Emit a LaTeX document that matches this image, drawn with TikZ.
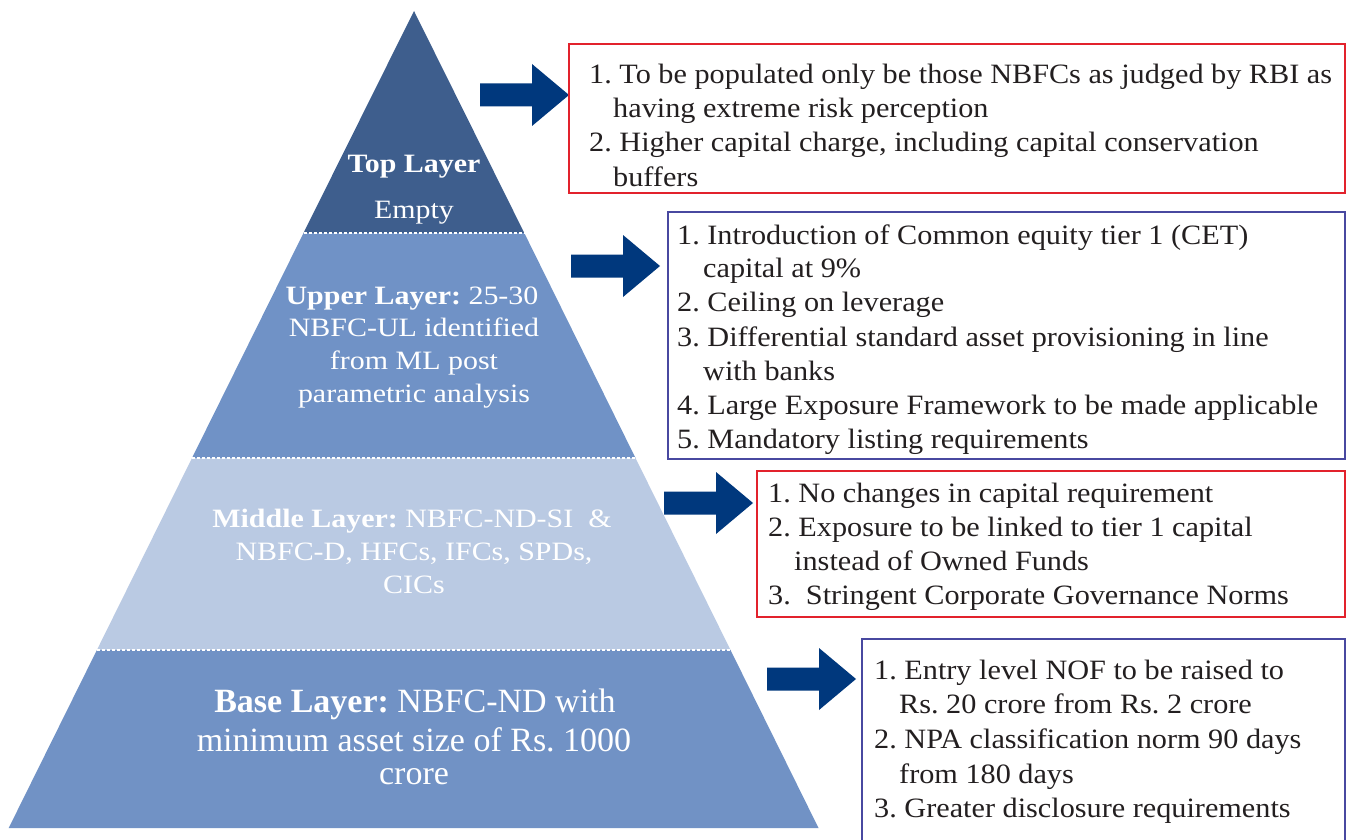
\documentclass[tikz,border=0pt]{standalone}
\usepackage{fontspec}
\setmainfont{Liberation Serif}
\newfontfamily\boxfont{Liberation Serif}[FakeStretch=1.08]
\newfontfamily\pyrfont{Liberation Serif}[FakeStretch=1.13]
\definecolor{topc}{RGB}{62,94,141}
\definecolor{upc}{RGB}{112,146,198}
\definecolor{midc}{RGB}{186,202,227}
\definecolor{basec}{RGB}{113,146,197}
\definecolor{arrowc}{RGB}{0,56,125}
\definecolor{redb}{RGB}{226,34,44}
\definecolor{blueb}{RGB}{72,72,160}
\definecolor{txtc}{RGB}{35,31,32}
\tikzset{
  sep/.style={white, line width=1.2pt, dash pattern=on 3pt off 2pt},
  boxr/.style={draw=redb, line width=1.1pt},
  boxb/.style={draw=blueb, line width=1.1pt},
  bt/.style={anchor=base west, inner sep=0pt, text=txtc, font=\boxfont\fontsize{28}{34}\selectfont\frenchspacing},
  pt/.style={anchor=base, inner sep=0pt, text=white, font=\pyrfont\fontsize{26.5}{32}\selectfont\frenchspacing},
  bpt/.style={anchor=base, inner sep=0pt, text=white, font=\fontsize{34}{40}\selectfont\frenchspacing},
  blockarrow/.pic={\fill[arrowc] (0,-11.5) -- (52,-11.5) -- (52,-31) -- (89,0) -- (52,31) -- (52,11.5) -- (0,11.5) -- cycle;}
}
\begin{document}
\begin{tikzpicture}[x=1pt,y=-1pt]
\clip (0,0) rectangle (1349,840);
\fill[white] (0,0) rectangle (1349,840);
% pyramid layers
\fill[topc]  (414,11) -- (524.3,233) -- (303.5,233) -- cycle;
\fill[upc]   (303.5,233) -- (524.3,233) -- (635.5,458) -- (192,458) -- cycle;
\fill[midc]  (192,458) -- (635.5,458) -- (730.5,650) -- (96.9,650) -- cycle;
\fill[basec] (96.9,650) -- (730.5,650) -- (818.5,828) -- (8.7,828) -- cycle;
\draw[sep] (303.5,233) -- (524.3,233);
\draw[sep] (192,458) -- (635.5,458);
\draw[sep] (96.9,650) -- (730.5,650);
% pyramid texts
\node[pt] (t1) at (414,172) {\bfseries Top Layer};
\node[pt] (t2) at (414,218) {Empty};
\node[pt] (u1) at (412,304) {\bfseries Upper Layer: \mdseries 25-30};
\node[pt] (u2) at (414,336) {NBFC-UL identified};
\node[pt] (u3) at (414,369) {from ML post};
\node[pt] (u4) at (414,402) {parametric analysis};
\node[pt] (m1) at (412,527) {\bfseries Middle Layer: \mdseries NBFC-ND-SI \ \&};
\node[pt] (m2) at (414,560) {NBFC-D, HFCs, IFCs, SPDs,};
\node[pt] (m3) at (414,593) {CICs};
\node[bpt] (p1) at (415,712) {\bfseries Base Layer: \mdseries NBFC-ND with};
\node[bpt] (p2) at (414,751) {minimum asset size of Rs. 1000};
\node[bpt] (p3) at (414,784) {crore};
% arrows
\pic at (480,95) {blockarrow};
\pic at (571,266) {blockarrow};
\pic at (664,503) {blockarrow};
\pic at (767,679) {blockarrow};
% boxes
\draw[boxr] (569,44) rectangle (1345,193);
\draw[boxb] (668,212) rectangle (1345,459);
\draw[boxr] (757,471) rectangle (1345,617);
\draw[boxb] (862,639) rectangle (1345,845);
% box 1 text
\node[bt] (a1) at (589,84) {1. To be populated only be those NBFCs as judged by RBI as};
\node[bt] (a2) at (613,118) {having extreme risk perception};
\node[bt] (a3) at (589,152) {2. Higher capital charge, including capital conservation};
\node[bt] (a4) at (613,186) {buffers};
% box 2 text
\node[bt] (b1) at (677,244) {1. Introduction of Common equity tier 1 (CET)};
\node[bt] (b2) at (703,277) {capital at 9\%};
\node[bt] (b3) at (677,311) {2. Ceiling on leverage};
\node[bt] (b4) at (677,346) {3. Differential standard asset provisioning in line};
\node[bt] (b5) at (703,380) {with banks};
\node[bt] (b6) at (677,414) {4. Large Exposure Framework to be made applicable};
\node[bt] (b7) at (677,448) {5. Mandatory listing requirements};
% box 3 text
\node[bt] (c1) at (768,502) {1. No changes in capital requirement};
\node[bt] (c2) at (768,536) {2. Exposure to be linked to tier 1 capital};
\node[bt] (c3) at (794,570) {instead of Owned Funds};
\node[bt] (c4) at (768,604) {3. \ Stringent Corporate Governance Norms};
% box 4 text
\node[bt] (d1) at (874,679) {1. Entry level NOF to be raised to};
\node[bt] (d2) at (899,713) {Rs. 20 crore from Rs. 2 crore};
\node[bt] (d3) at (874,748) {2. NPA classification norm 90 days};
\node[bt] (d4) at (899,783) {from 180 days};
\node[bt] (d5) at (874,817) {3. Greater disclosure requirements};
\end{tikzpicture}
\end{document}
